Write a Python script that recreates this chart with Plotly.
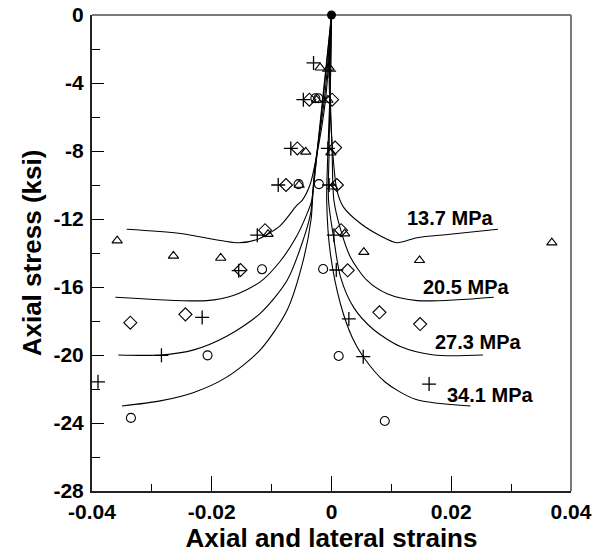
import plotly.graph_objects as go

# ---------------- data ----------------
# fitted curves (strain, stress in ksi); left = axial, right = lateral
c137_left_x = [0, -0.0010, -0.0026, -0.0036, -0.0049, -0.0058, -0.0086, -0.0124, -0.0155, -0.0252, -0.0342]
c137_left_y = [0, -5.0, -8.5, -10.0, -10.9, -11.2, -12.4, -13.2, -13.4, -12.85, -12.6]
c205_left_x = [0, -0.0012, -0.0028, -0.0033, -0.0041, -0.0058, -0.0086, -0.0119, -0.0164, -0.0208, -0.0361]
c205_left_y = [0, -5.0, -9.0, -10.9, -11.7, -13.0, -14.5, -15.7, -16.5, -16.8, -16.6]
c273_left_x = [0, -0.0014, -0.0030, -0.0035, -0.0047, -0.0074, -0.0119, -0.0175, -0.0230, -0.0285, -0.0356]
c273_left_y = [0, -5.0, -10.0, -11.7, -13.2, -15.6, -17.55, -18.9, -19.7, -20.0, -20.0]
c341_left_x = [0, -0.0015, -0.0031, -0.0034, -0.0047, -0.0074, -0.0119, -0.0175, -0.0230, -0.0286, -0.0350]
c341_left_y = [0, -5.0, -10.5, -12.0, -14.4, -17.35, -19.7, -21.3, -22.2, -22.7, -23.0]

c137_right_x = [0, -0.0004, 0.0000, 0.0009, 0.0020, 0.0048, 0.0082, 0.0109, 0.0143, 0.0198, 0.0278]
c137_right_y = [0, -3.0, -7.0, -10.3, -11.3, -12.25, -13.0, -13.4, -13.1, -12.9, -12.6]
c205_right_x = [0, -0.0003, 0.0001, 0.0004, 0.0015, 0.0031, 0.0059, 0.0093, 0.0143, 0.0271]
c205_right_y = [0, -3.0, -8.0, -10.9, -12.6, -14.2, -15.6, -16.4, -16.8, -16.6]
c273_right_x = [0, -0.0002, -0.0004, -0.0005, 0.0004, 0.0015, 0.0037, 0.0070, 0.0115, 0.0171, 0.0253]
c273_right_y = [0, -3.0, -8.0, -10.9, -13.2, -15.4, -17.2, -18.5, -19.5, -20.0, -20.0]
c341_right_x = [0, -0.0001, -0.0006, -0.0008, -0.0002, 0.0015, 0.0035, 0.0053, 0.0090, 0.0140, 0.0232]
c341_right_y = [0, -3.0, -8.0, -11.0, -14.0, -17.0, -19.0, -20.1, -21.6, -22.6, -23.0]

# measured points
tri_x = [-0.0358, -0.0264, -0.0185, -0.0106, 0.0022, 0.0054, 0.0147, 0.0368,
         -0.0054, 0.0002, -0.0043, -0.0001, -0.0025, -0.0006, -0.0019, -0.0004]
tri_y = [-13.27, -14.17, -14.29, -12.89, -12.86, -13.95, -14.43, -13.39,
         -10.0, -10.1, -8.05, -8.1, -5.0, -5.0, -3.1, -3.1]
dia_x = [-0.0336, -0.0244, -0.0152, -0.0111, 0.0016, 0.0027, 0.0080, 0.0148,
         -0.0076, 0.0009, -0.0057, 0.0006, -0.0037, 0.0001]
dia_y = [-18.10, -17.61, -15.0, -12.66, -12.66, -15.02, -17.49, -18.18,
         -10.0, -10.0, -7.85, -7.8, -4.98, -4.98]
plus_x = [-0.0390, -0.0284, -0.0216, -0.0155, -0.0124, 0.0004, 0.0008, 0.0029, 0.0053, 0.0163,
          -0.0089, -0.0004, -0.0068, -0.0006, -0.0047, -0.0030, -0.0004]
plus_y = [-21.58, -20.02, -17.79, -15.04, -12.95, -12.95, -15.0, -17.88, -20.1, -21.71,
          -10.0, -10.0, -7.85, -7.85, -4.98, -2.82, -3.3]
circ_x = [-0.0335, -0.0207, -0.0116, -0.0014, 0.0012, 0.0089, -0.0055, -0.0021, -0.0027, -0.0022]
circ_y = [-23.70, -20.02, -14.96, -14.94, -20.06, -23.88, -9.95, -9.95, -4.9, -4.9]
origin_x = [0.0]
origin_y = [0.0]

labels = ["13.7 MPa", "20.5 MPa", "27.3 MPa", "34.1 MPa"]
label_x = [0.0198, 0.0225, 0.0244, 0.0265]
label_y = [-11.93, -15.98, -19.22, -22.36]

x_ticks = [-0.04, -0.02, 0, 0.02, 0.04]
x_ticktext = ["-0.04", "-0.02", "0", "0.02", "0.04"]
y_ticks = [0, -4, -8, -12, -16, -20, -24, -28]
y_ticktext = ["0", "-4", "-8", "-12", "-16", "-20", "-24", "-28"]

# ---------------- figure ----------------
FONT = "Liberation Sans, Arial, sans-serif"
fig = go.Figure()

curves = [(c137_left_x, c137_left_y), (c205_left_x, c205_left_y),
          (c273_left_x, c273_left_y), (c341_left_x, c341_left_y),
          (c137_right_x, c137_right_y), (c205_right_x, c205_right_y),
          (c273_right_x, c273_right_y), (c341_right_x, c341_right_y)]
for cx, cy in curves:
    fig.add_trace(go.Scatter(x=cx, y=cy, mode="lines",
                             line=dict(color="black", width=1.1, shape="spline", smoothing=0.8),
                             hoverinfo="skip", showlegend=False))

fig.add_trace(go.Scatter(x=tri_x, y=tri_y, mode="markers",
                         marker=dict(symbol="triangle-up-open", size=9, color="black",
                                     line=dict(color="black", width=1.1)), showlegend=False))
fig.add_trace(go.Scatter(x=dia_x, y=dia_y, mode="markers",
                         marker=dict(symbol="diamond-open", size=10, color="black",
                                     line=dict(color="black", width=1.1)), showlegend=False))
fig.add_trace(go.Scatter(x=plus_x, y=plus_y, mode="markers",
                         marker=dict(symbol="cross-thin-open", size=10, color="black",
                                     line=dict(color="black", width=1.3)), showlegend=False))
fig.add_trace(go.Scatter(x=circ_x, y=circ_y, mode="markers",
                         marker=dict(symbol="circle-open", size=9, color="black",
                                     line=dict(color="black", width=1.1)), showlegend=False))
fig.add_trace(go.Scatter(x=origin_x, y=origin_y, mode="markers",
                         marker=dict(symbol="circle", size=9, color="black"), showlegend=False,
                         cliponaxis=False))

for t, lx, ly in zip(labels, label_x, label_y):
    fig.add_annotation(x=lx, y=ly, text=t, showarrow=False,
                       font=dict(family=FONT, size=20, color="black", weight="bold"))

# top / right frame lines (grey)
fig.add_shape(type="line", xref="paper", yref="paper", x0=0, x1=1, y0=1, y1=1, layer="below",
              line=dict(color="#7a7a7a", width=2))
fig.add_shape(type="line", xref="paper", yref="paper", x0=1, x1=1, y0=0, y1=1, layer="below",
              line=dict(color="#7a7a7a", width=2))

fig.update_layout(
    width=604, height=553, autosize=False,
    margin=dict(l=92, r=33, t=15, b=62),
    plot_bgcolor="white", paper_bgcolor="white",
    font=dict(family=FONT, color="black"),
    xaxis=dict(range=[-0.04, 0.04], tickvals=x_ticks, ticktext=x_ticktext,
               automargin=False,
               ticks="inside", ticklen=15, tickwidth=1.3, tickcolor="black",
               minor=dict(dtick=0.01, ticks="inside", ticklen=7, tickwidth=1.3, tickcolor="black"),
               showline=True, linecolor="#222", linewidth=2, showgrid=False, zeroline=False,
               tickfont=dict(family=FONT, size=21, weight="bold"),
               ticklabelstandoff=1,
               title=dict(text="Axial and lateral strains", standoff=0,
                          font=dict(family=FONT, size=26, weight="bold"))),
    yaxis=dict(range=[-28, 0], tickvals=y_ticks, ticktext=y_ticktext,
               automargin=False,
               ticks="inside", ticklen=12, tickwidth=1.3, tickcolor="black",
               minor=dict(dtick=2, ticks="inside", ticklen=8, tickwidth=1.3, tickcolor="black"),
               showline=True, linecolor="#222", linewidth=2, showgrid=False, zeroline=False,
               tickfont=dict(family=FONT, size=21, weight="bold"),
               ticklabelstandoff=2,
               title=dict(text="Axial stress (ksi)", standoff=4,
                          font=dict(family=FONT, size=26, weight="bold"))),
)

fig.write_html("out.html", config={"displayModeBar": False},
               post_script="document.body.style.margin='0';")
